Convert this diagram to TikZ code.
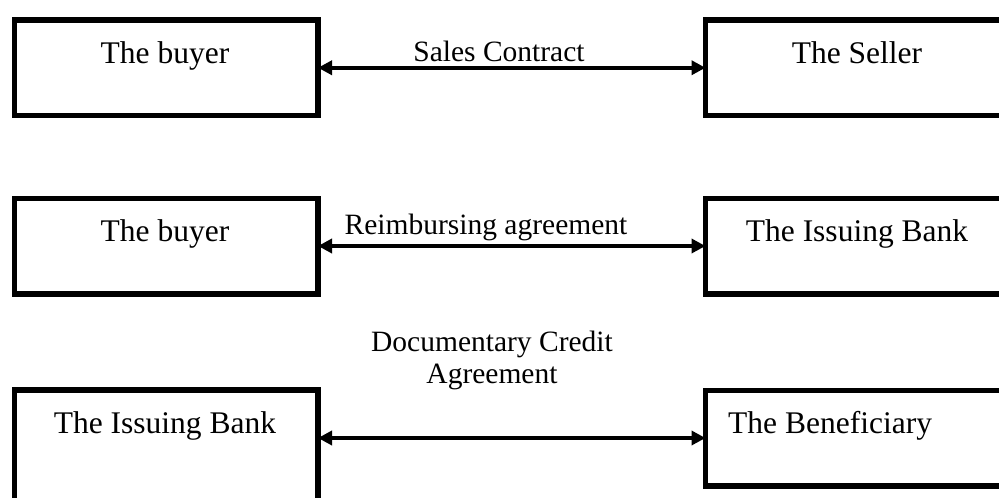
\documentclass[tikz,border=0pt]{standalone}
\usepackage{fontspec}
\setmainfont{Liberation Serif}
\usetikzlibrary{arrows.meta}
\begin{document}
\begin{tikzpicture}[x=1pt,y=-1pt,
  party/.style={draw, line width=5.5pt, minimum width=303.5pt, minimum height=95.5pt,
                outer sep=0pt, inner sep=0pt},
  partytext/.style={inner sep=0pt, font=\fontsize{31.5pt}{36pt}\selectfont},
  linklabel/.style={inner sep=0pt, align=center, font=\fontsize{29.5pt}{32pt}\selectfont},
  link/.style={line width=4pt, {Triangle[length=14pt,width=14pt]}-{Triangle[length=14pt,width=14pt]}}]
\useasboundingbox (0,0) rectangle (999,498);
\clip (0,0) rectangle (999,498);

% parties of each agreement
\node[party] (buyerA)  at (166.25,67.75) {};
\node[party] (seller)  at (857.25,67.75) {};
\node[party] (buyerB)  at (166.25,246) {};
\node[party] (bankA)   at (857.25,246) {};
\node[party, minimum height=130pt] (bankB) at (166.25,455) {};
\node[party] (benef)   at (857.25,438) {};

% party names
\node[partytext, anchor=base] (tBuyerA) at (165,63) {The buyer};
\node[partytext, anchor=base] (tSeller) at (857,63) {The Seller};
\node[partytext, anchor=base] (tBuyerB) at (165,241) {The buyer};
\node[partytext, anchor=base] (tBankA)  at (857,241) {The Issuing Bank};
\node[partytext, anchor=base] (tBankB)  at (165,433) {The Issuing Bank};
\node[partytext, anchor=base west] (tBenef) at (728,433) {The Beneficiary};

% agreements between the parties
\draw[link] (buyerA.east) -- (seller.west);
\draw[link] (buyerB.east) -- (bankA.west);
\draw[link] (bankB.east |- benef.west) -- (benef.west);

\node[linklabel, anchor=base] (lSales) at (499,61) {Sales Contract};
\node[linklabel, anchor=base] (lReimb) at (486,234) {Reimbursing agreement};
\node[linklabel, anchor=base] (lCredit) at (492,383) {Documentary Credit\\Agreement};
\end{tikzpicture}
\end{document}
